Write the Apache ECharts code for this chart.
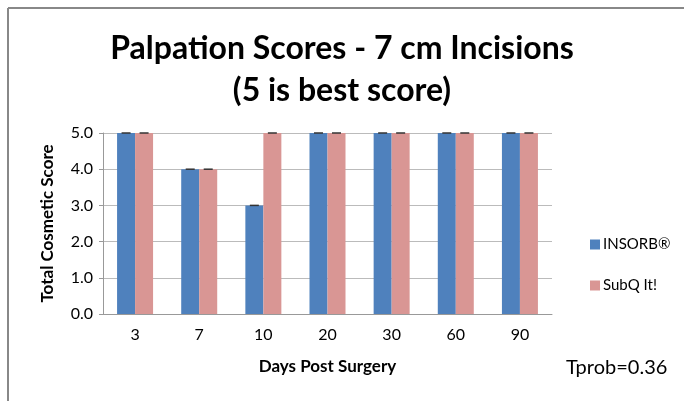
<!DOCTYPE html>
<html>
<head>
<meta charset="utf-8">
<script src="https://cdn.jsdelivr.net/npm/echarts@6/dist/echarts.min.js"></script>
<style>html,body{margin:0;padding:0;background:#fff}#c{width:684px;height:401px}</style>
</head>
<body>
<div id="c"></div>
<script>
var categories = ['3', '7', '10', '20', '30', '60', '90'];
var insorb = [5, 4, 3, 5, 5, 5, 5];
var subq = [5, 4, 5, 5, 5, 5, 5];
var seriesNames = ['INSORB\u00AE', 'SubQ It!'];
var yTicks = [0, 1, 2, 3, 4, 5];

var FONT = 'Lato';
var chart = echarts.init(document.getElementById('c'));

function capSeries(data, offset) {
  return {
    type: 'custom',
    silent: true,
    z: 5,
    renderItem: function (params, api) {
      var p = api.coord([api.value(0), api.value(1)]);
      var x = p[0] + offset;
      return {
        type: 'line',
        shape: { x1: x - 4.5, y1: p[1], x2: x + 4.5, y2: p[1] },
        style: { stroke: '#333', lineWidth: 1.5 }
      };
    },
    data: data.map(function (v, i) { return [i, v]; })
  };
}

chart.setOption({
  animation: false,
  backgroundColor: '#fff',
  textStyle: { fontFamily: FONT },
  title: {
    text: 'Palpation Scores - 7 cm Incisions\n(5 is best score)',
    left: 'center',
    top: 23,
    textStyle: { fontFamily: FONT, fontSize: 32, fontWeight: 'bold', color: '#000', lineHeight: 42 }
  },
  legend: {
    orient: 'vertical',
    left: 585,
    top: 232,
    itemWidth: 10,
    itemHeight: 10,
    itemGap: 26,
    icon: 'rect',
    data: seriesNames,
    textStyle: { fontFamily: FONT, fontSize: 15, color: '#000', padding: [0, 0, 0, -2] }
  },
  grid: { left: 103, right: 132, top: 133, bottom: 87 },
  xAxis: {
    type: 'category',
    data: categories,
    name: 'Days Post Surgery',
    nameLocation: 'middle',
    nameGap: 44,
    nameTextStyle: { fontFamily: FONT, fontSize: 17, fontWeight: 'bold', color: '#000' },
    axisLine: { lineStyle: { color: '#999', width: 1 } },
    axisTick: { show: false },
    axisLabel: { fontFamily: FONT, fontSize: 16, color: '#000', margin: 13 }
  },
  yAxis: {
    type: 'value',
    min: yTicks[0],
    max: yTicks[yTicks.length - 1],
    interval: 1,
    name: 'Total Cosmetic Score',
    nameLocation: 'middle',
    nameGap: 47,
    nameTextStyle: { fontFamily: FONT, fontSize: 17, fontWeight: 'bold', color: '#000' },
    axisLine: { show: true, lineStyle: { color: '#999', width: 1 } },
    axisTick: { show: true, length: 4, lineStyle: { color: '#999' } },
    axisLabel: { fontFamily: FONT, fontSize: 16, color: '#000', margin: 10,
      formatter: function (v) { return v.toFixed(1); } },
    splitLine: { lineStyle: { color: '#bbb', width: 1 } }
  },
  graphic: [
    { type: 'line', shape: { x1: 8, y1: 8, x2: 684, y2: 8 }, style: { stroke: '#888', lineWidth: 2 } },
    { type: 'line', shape: { x1: 8, y1: 8, x2: 8, y2: 401 }, style: { stroke: '#888', lineWidth: 2 } },
    { type: 'text', left: 566, top: 358, style: { text: 'Tprob=0.36', font: '20px ' + FONT, fill: '#000' } }
  ],
  series: [
    { name: seriesNames[0], type: 'bar', data: insorb, barWidth: 18, barGap: '0%',
      itemStyle: { color: '#4F81BD' } },
    { name: seriesNames[1], type: 'bar', data: subq, barWidth: 18, barGap: '0%',
      itemStyle: { color: '#D99694' } },
    capSeries(insorb, -9),
    capSeries(subq, 9)
  ]
});
</script>
</body>
</html>
